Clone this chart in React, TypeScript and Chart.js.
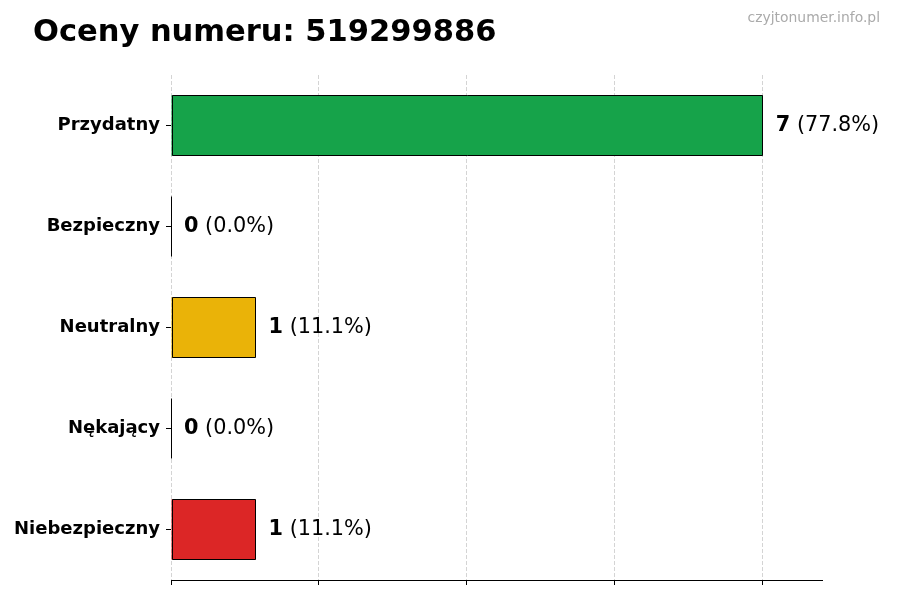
import { useEffect, useRef } from 'react'
import { Chart, registerables } from 'chart.js'

Chart.register(...registerables)

const TITLE = 'Oceny numeru: 519299886'
const WATERMARK = 'czyjtonumer.info.pl'

const categories = ['Przydatny', 'Bezpieczny', 'Neutralny', 'Nękający', 'Niebezpieczny']
const counts = [7, 0, 1, 0, 1]
const barColors = ['#16a34a', '#16a34a', '#eab308', '#eab308', '#dc2626']
const xTicks = [0, 1.75, 3.5, 5.25, 7]
const xMax = 7.7

const FONT = "'DejaVu Sans', sans-serif"

export default function App() {
  const canvasRef = useRef<HTMLCanvasElement>(null)
  const chartRef = useRef<Chart | null>(null)

  useEffect(() => {
    if (!canvasRef.current) return
    chartRef.current?.destroy()

    const total = counts.reduce((a, b) => a + b, 0)

    // title + watermark drawn on top of the canvas
    const headerPlugin = {
      id: 'header',
      afterDraw(chart: Chart) {
        const ctx = chart.ctx
        ctx.save()
        ctx.fillStyle = '#000'
        ctx.font = `bold 30.5px ${FONT}`
        ctx.textAlign = 'left'
        ctx.textBaseline = 'alphabetic'
        ctx.fillText(TITLE, 33, 41)
        ctx.fillStyle = '#aaaaaa'
        ctx.font = `13.9px ${FONT}`
        ctx.textAlign = 'right'
        ctx.fillText(WATERMARK, 880, 22)
        ctx.restore()
      },
    }

    // "N (pct%)" labels after each bar, plus a dark edge for every bar
    const valueLabels = {
      id: 'valueLabels',
      afterDatasetsDraw(chart: Chart) {
        const ctx = chart.ctx
        const meta = chart.getDatasetMeta(0)
        ctx.save()
        meta.data.forEach((el: any, i: number) => {
          const v = counts[i]
          const h = el.height
          const top = Math.round(el.y - h / 2) + 0.5
          const bot = Math.round(el.y + h / 2) - 0.5
          const left = Math.round(el.base) + 0.5
          const right = Math.round(el.x) - 0.5
          ctx.strokeStyle = '#000'
          ctx.lineWidth = 1
          ctx.beginPath()
          if (v > 0) {
            ctx.rect(left, top, right - left, bot - top)
          } else {
            ctx.moveTo(left, top)
            ctx.lineTo(left, bot)
          }
          ctx.stroke()

          const pct = total ? (v / total) * 100 : 0
          let x = el.x + 13
          ctx.fillStyle = '#000'
          ctx.textBaseline = 'middle'
          ctx.textAlign = 'left'
          ctx.font = `bold 20.8px ${FONT}`
          const bold = String(v)
          ctx.fillText(bold, x, el.y)
          x += ctx.measureText(bold).width
          ctx.font = `20.8px ${FONT}`
          ctx.fillText(` (${pct.toFixed(1)}%)`, x, el.y)
        })
        ctx.restore()
      },
    }

    chartRef.current = new Chart(canvasRef.current, {
      type: 'bar',
      data: {
        labels: categories,
        datasets: [{
          data: counts,
          backgroundColor: barColors,
          borderWidth: 0,
          barPercentage: 0.6,
          categoryPercentage: 1,
        }],
      },
      options: {
        indexAxis: 'y',
        animation: false,
        responsive: false,
        maintainAspectRatio: false,
        layout: { padding: { top: 75, right: 78, bottom: 0, left: 0 } },
        plugins: {
          legend: { display: false },
          tooltip: { enabled: false },
          title: { display: false },
        },
        scales: {
          x: {
            type: 'linear',
            min: 0,
            max: xMax,
            afterBuildTicks: (scale: any) => {
              scale.ticks = xTicks.map(value => ({ value }))
            },
            afterFit: (scale: any) => { scale.height = 20 },
            ticks: { display: true, callback: () => '' },
            grid: {
              color: '#d4d4d4',
              lineWidth: 1,
              drawTicks: true,
              tickLength: 5,
              tickColor: '#000',
              tickWidth: 1,
            },
            border: { display: true, color: '#000', width: 1, dash: [4, 2] },
          },
          y: {
            type: 'category',
            afterFit: (scale: any) => { scale.width = 171 },
            ticks: {
              color: '#000',
              padding: 6,
              font: { family: FONT, size: 18, weight: 'bold' },
            },
            grid: {
              drawOnChartArea: false,
              drawTicks: true,
              tickLength: 5,
              tickColor: '#000',
              offset: false,
            },
            border: { display: false },
          },
        },
      },
      plugins: [headerPlugin, valueLabels],
    } as any)

    return () => {
      chartRef.current?.destroy()
      chartRef.current = null
    }
  }, [])

  return (
    <div style={{ position: 'fixed', left: 0, top: 0, width: 900, height: 600, background: '#fff' }}>
      <canvas ref={canvasRef} width={900} height={600} style={{ width: 900, height: 600 }} />
    </div>
  )
}
